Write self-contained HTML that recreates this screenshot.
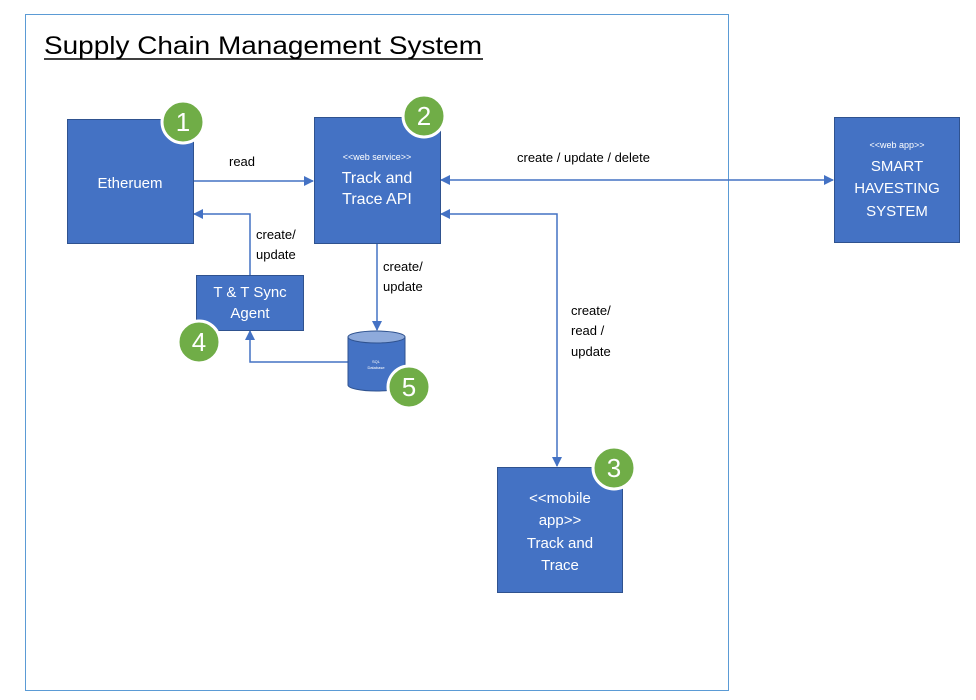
<!DOCTYPE html>
<html><head><style>
body{margin:0;width:976px;height:695px;background:#fff;font-family:"Liberation Sans",sans-serif;overflow:hidden}
</style></head><body>
<svg width="976" height="695" xmlns="http://www.w3.org/2000/svg" font-family="Liberation Sans, sans-serif">
<defs><marker id="a" markerWidth="10" markerHeight="10" refX="9" refY="5" orient="auto" markerUnits="userSpaceOnUse"><path d="M0,0 L10,5 L0,10 z" fill="#4472c4"/></marker>
<marker id="s" markerWidth="10" markerHeight="10" refX="1" refY="5" orient="auto" markerUnits="userSpaceOnUse"><path d="M10,0 L0,5 L10,10 z" fill="#4472c4"/></marker></defs>
<rect x="25.5" y="14.5" width="703" height="676" fill="none" stroke="#5b9bd5" stroke-width="1"/>
<text x="44" y="54" font-size="25" fill="#000" textLength="438" lengthAdjust="spacingAndGlyphs">Supply Chain Management System</text>
<line x1="44" y1="59" x2="483" y2="59" stroke="#000" stroke-width="1.5"/>
<g stroke="#4472c4" stroke-width="1.5" fill="none">
<line x1="193" y1="181" x2="313" y2="181" marker-end="url(#a)"/>
<line x1="441" y1="180" x2="833" y2="180" marker-start="url(#s)" marker-end="url(#a)"/>
<polyline points="441,214 557,214 557,466" marker-start="url(#s)" marker-end="url(#a)"/>
<polyline points="250,275 250,214 194,214" marker-end="url(#a)"/>
<line x1="377" y1="243" x2="377" y2="330" marker-end="url(#a)"/>
<polyline points="348,362 250,362 250,331" marker-end="url(#a)"/>
</g>
<g fill="#4472c4" stroke="#2f528f" stroke-width="1">
<rect x="67.5" y="119.5" width="126" height="124"/>
<rect x="314.5" y="117.5" width="126" height="126"/>
<rect x="834.5" y="117.5" width="125" height="125"/>
<rect x="196.5" y="275.5" width="107" height="55"/>
<rect x="497.5" y="467.5" width="125" height="125"/>
<path d="M348,337 L348,385 A28.5,6 0 0 0 405,385 L405,337"/>
<ellipse cx="376.5" cy="337" rx="28.5" ry="6" fill="#8eaadb"/>
</g>
<g fill="#fff" text-anchor="middle">
<text x="130" y="188" font-size="15">Etheruem</text>
<text x="377" y="160" font-size="9">&lt;&lt;web service&gt;&gt;</text>
<text x="377" y="183" font-size="16">Track and</text>
<text x="377" y="204" font-size="16">Trace API</text>
<text x="897" y="148" font-size="9">&lt;&lt;web app&gt;&gt;</text>
<text x="897" y="171" font-size="15">SMART</text>
<text x="897" y="193" font-size="15">HAVESTING</text>
<text x="897" y="216" font-size="15">SYSTEM</text>
<text x="250" y="297" font-size="15">T &amp; T Sync</text>
<text x="250" y="318" font-size="15">Agent</text>
<text x="560" y="503" font-size="15">&lt;&lt;mobile</text>
<text x="560" y="525" font-size="15">app&gt;&gt;</text>
<text x="560" y="548" font-size="15">Track and</text>
<text x="560" y="570" font-size="15">Trace</text>
<text x="376" y="363" font-size="4">SQL</text>
<text x="376" y="369" font-size="4">Database</text>
</g>
<g font-size="13" fill="#000">
<text x="229" y="166">read</text>
<text x="517" y="162">create / update / delete</text>
<text x="256" y="239">create/</text><text x="256" y="259">update</text>
<text x="383" y="271">create/</text><text x="383" y="291">update</text>
<text x="571" y="315">create/</text><text x="571" y="335">read /</text><text x="571" y="356">update</text>
</g>
<g fill="#70ad47" stroke="#fff" stroke-width="3">
<circle cx="183" cy="122" r="21"/><circle cx="424" cy="116" r="21"/><circle cx="614" cy="468" r="21"/>
<circle cx="199" cy="342" r="21"/><circle cx="409" cy="387" r="21"/>
</g>
<g fill="#fff" font-size="26" text-anchor="middle">
<text x="183" y="131">1</text><text x="424" y="125">2</text><text x="614" y="477">3</text>
<text x="199" y="351">4</text><text x="409" y="396">5</text>
</g>
</svg>
</body></html>
